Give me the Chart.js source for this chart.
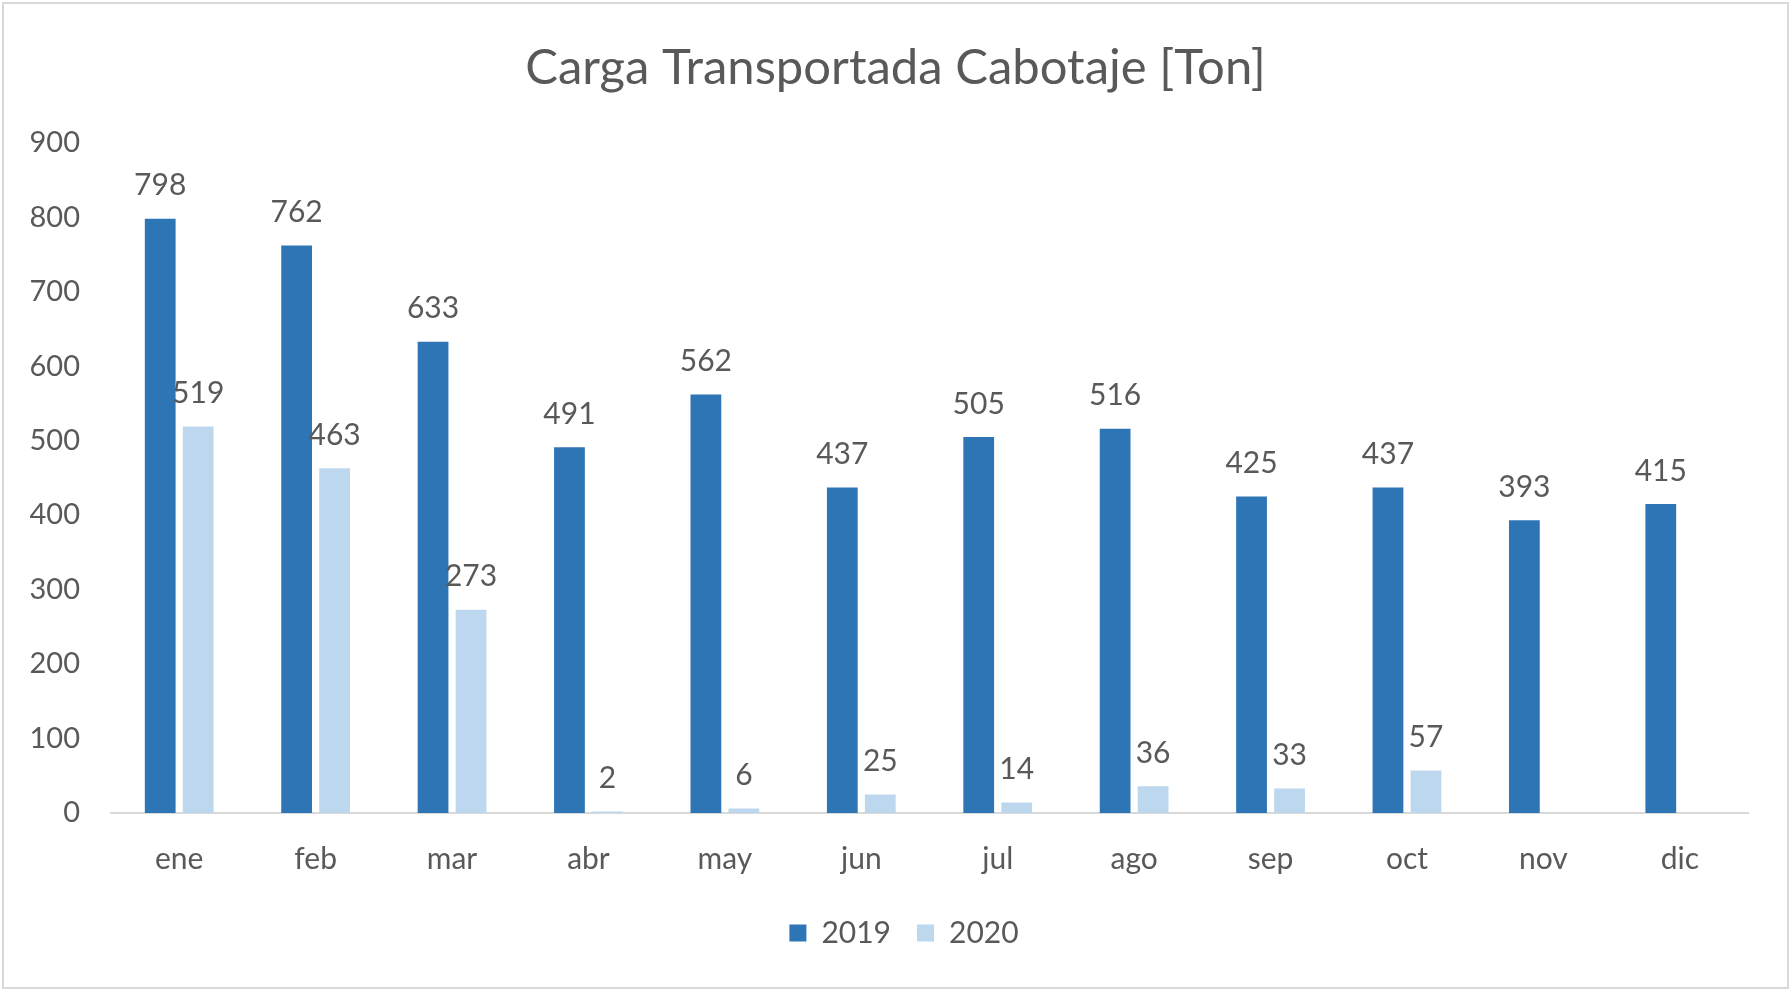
<!DOCTYPE html>
<html>
<head>
<meta charset="utf-8">
<script src="https://cdn.jsdelivr.net/npm/chart.js@4.4.1/dist/chart.umd.min.js"></script>
<style>
  html, body { margin: 0; padding: 0; background: #fff; }
  #wrap { position: relative; width: 1791px; height: 992px; }
</style>
</head>
<body>
<div id="wrap"><canvas id="chart" width="1791" height="992"></canvas></div>
<script>
// datos
const meses = ["ene", "feb", "mar", "abr", "may", "jun", "jul", "ago", "sep", "oct", "nov", "dic"];
const carga2019 = [798, 762, 633, 491, 562, 437, 505, 516, 425, 437, 393, 415];
const carga2020 = [519, 463, 273, 2, 6, 25, 14, 36, 33, 57, null, null];
const yTicks = [0, 100, 200, 300, 400, 500, 600, 700, 800, 900];

const textColor = "#595959";
const fontFamily = "Lato, 'Open Sans', sans-serif";

// marco gris + fondo blanco
const frame = {
  id: "frame",
  beforeDraw(chart) {
    const ctx = chart.ctx;
    ctx.save();
    ctx.fillStyle = "#fff";
    ctx.fillRect(0, 0, chart.width, chart.height);
    ctx.strokeStyle = "#d9d9d9";
    ctx.lineWidth = 2;
    ctx.strokeRect(3, 3, chart.width - 6, chart.height - 7);
    ctx.restore();
  }
};

// título y leyenda centrados como en el original
const recenter = {
  id: "recenter",
  afterLayout(chart) {
    if (chart.legend) chart.legend.left += 60;
    if (chart.titleBlock) chart.titleBlock.right += 43;
  }
};

// etiquetas de valor encima de cada barra
const valueLabels = {
  id: "valueLabels",
  afterDatasetsDraw(chart) {
    const ctx = chart.ctx;
    ctx.save();
    ctx.font = "30px " + fontFamily;
    ctx.fillStyle = textColor;
    ctx.textAlign = "center";
    ctx.textBaseline = "middle";
    chart.data.datasets.forEach((ds, i) => {
      chart.getDatasetMeta(i).data.forEach((bar, j) => {
        const v = ds.data[j];
        if (v === null || v === undefined) return;
        ctx.fillText(String(v), bar.x, bar.y - 33);
      });
    });
    ctx.restore();
  }
};

new Chart(document.getElementById("chart"), {
  type: "bar",
  data: {
    labels: meses,
    datasets: [
      { label: "2019", data: carga2019, backgroundColor: "#2e75b6", borderWidth: 0 },
      { label: "2020", data: carga2020, backgroundColor: "#bdd7ee", borderWidth: 0 }
    ]
  },
  options: {
    responsive: false,
    animation: false,
    layout: { padding: { left: 0, right: 43, top: 0, bottom: 34 } },
    datasets: {
      bar: { categoryPercentage: 0.557, barPercentage: 0.81 }
    },
    plugins: {
      title: {
        display: true,
        text: "Carga Transportada Cabotaje [Ton]",
        color: textColor,
        font: { family: fontFamily, size: 49, weight: "normal" },
        padding: { top: 39, bottom: 45 }
      },
      legend: {
        position: "bottom",
        labels: {
          color: textColor,
          font: { family: fontFamily, size: 30 },
          boxWidth: 17,
          boxHeight: 17,
          padding: 26
        }
      },
      tooltip: { enabled: false }
    },
    scales: {
      x: {
        grid: { display: false, drawTicks: false },
        border: { display: true, color: "#d9d9d9", width: 2 },
        ticks: { color: textColor, font: { family: fontFamily, size: 30 }, padding: 28 },
        afterFit(scale) { scale.height = 79; }
      },
      y: {
        min: 0,
        max: 900,
        grid: { display: false, drawTicks: false },
        border: { display: false },
        afterBuildTicks(scale) { scale.ticks = yTicks.map(v => ({ value: v })); },
        ticks: { color: textColor, font: { family: fontFamily, size: 29 }, padding: 31 },
        afterFit(scale) { scale.width = 111; }
      }
    }
  },
  plugins: [frame, recenter, valueLabels]
});
</script>
</body>
</html>
